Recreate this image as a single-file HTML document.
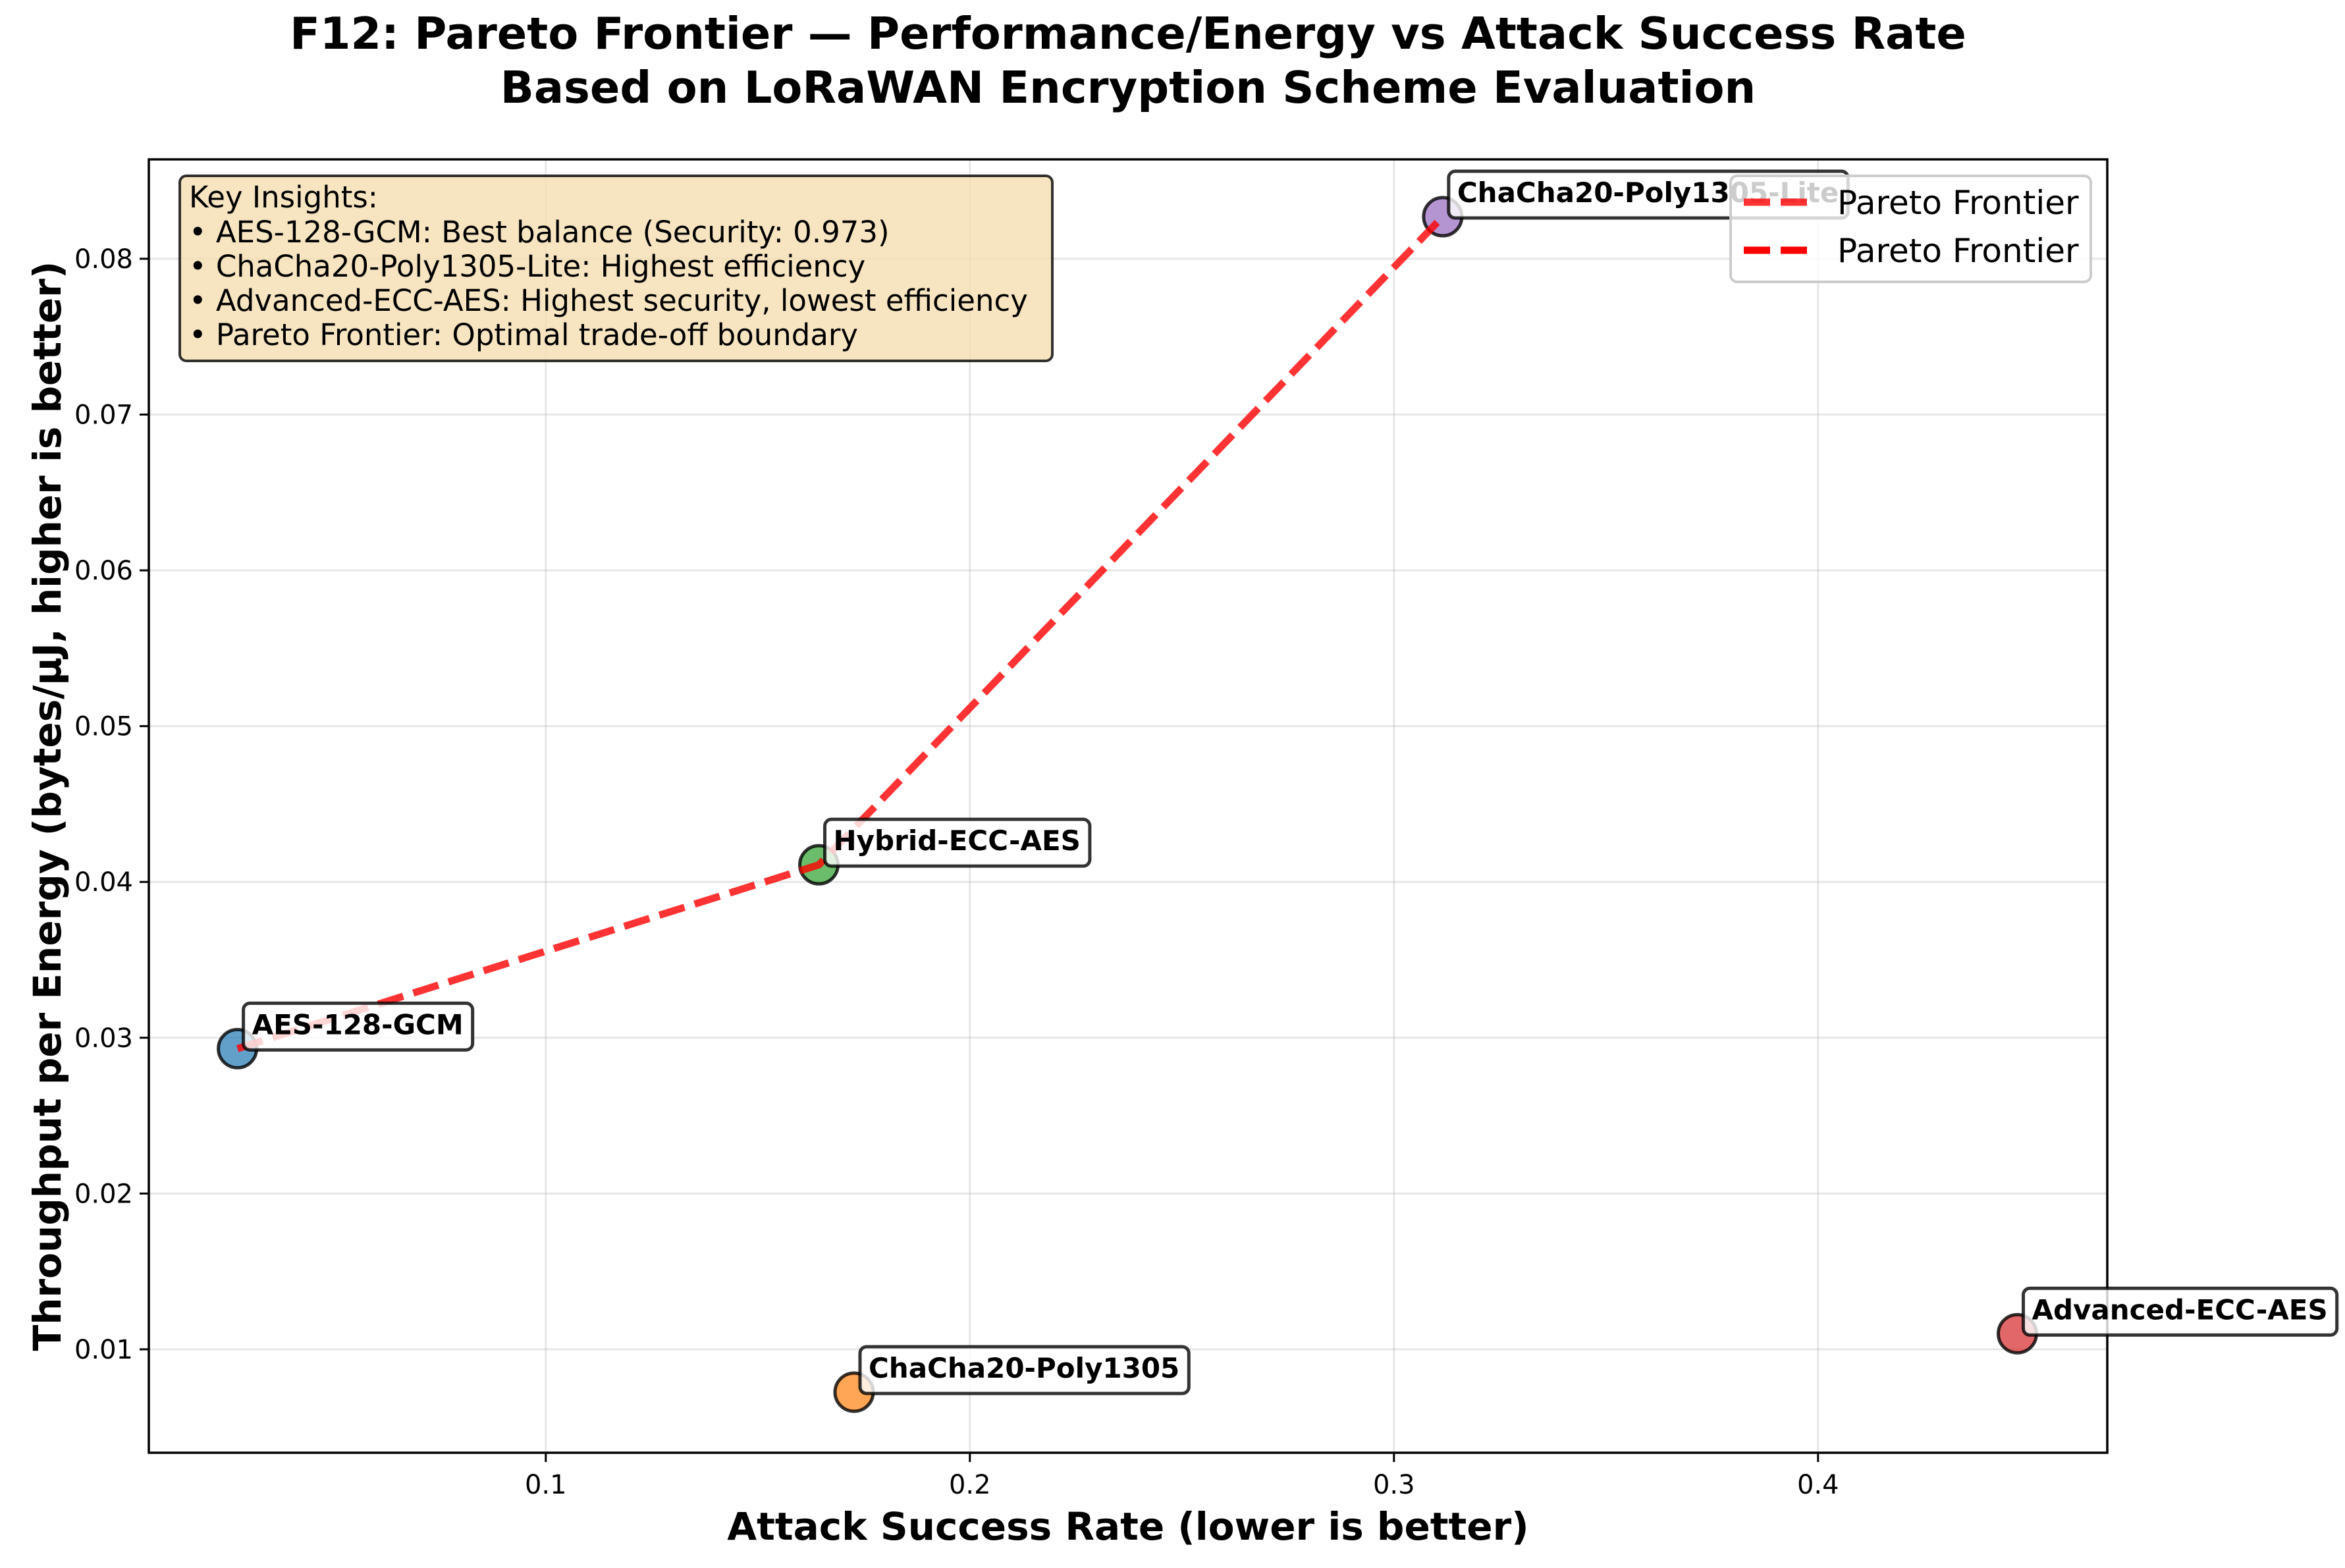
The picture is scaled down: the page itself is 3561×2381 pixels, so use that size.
<!DOCTYPE html>
<html><head><meta charset="utf-8">
<style>
html,body{margin:0;padding:0;background:#fff;}
svg{display:block;font-family:"DejaVu Sans","Liberation Sans",sans-serif;}
</style></head>
<body>
<svg id="chart" width="3561" height="2381" viewBox="0 0 3561 2381" xmlns="http://www.w3.org/2000/svg">
<rect width="3561" height="2381" fill="#fff"/>
<text x="1713" y="74" font-size="67" font-weight="bold" text-anchor="middle">F12: Pareto Frontier — Performance/Energy vs Attack Success Rate</text>
<text x="1713" y="156" font-size="67" font-weight="bold" text-anchor="middle">Based on LoRaWAN Encryption Scheme Evaluation</text>
<g id="grid"></g>
<g id="series"></g>
<rect x="226" y="242" width="2974" height="1964" fill="none" stroke="#000" stroke-width="3.5"/>
<g id="ticks"></g>
<text x="1713" y="2338" font-size="58" font-weight="bold" text-anchor="middle">Attack Success Rate (lower is better)</text>
<text transform="translate(92,1224) rotate(-90)" font-size="58" font-weight="bold" text-anchor="middle">Throughput per Energy (bytes/μJ, higher is better)</text>
<g>
<rect x="273" y="267" width="1325" height="281" rx="10" fill="#f5deb3" fill-opacity="0.8" stroke="#000" stroke-opacity="0.8" stroke-width="4"/>
<text font-size="45">
<tspan x="287" y="315">Key Insights:</tspan>
<tspan x="287" y="368">• AES-128-GCM: Best balance (Security: 0.973)</tspan>
<tspan x="287" y="420">• ChaCha20-Poly1305-Lite: Highest efficiency</tspan>
<tspan x="287" y="472">• Advanced-ECC-AES: Highest security, lowest efficiency</tspan>
<tspan x="287" y="524">• Pareto Frontier: Optimal trade-off boundary</tspan>
</text>
</g>
<g id="labels"></g>
<g>
<rect x="2628" y="267" width="547" height="161" rx="10" fill="#fff" fill-opacity="0.8" stroke="#ccc" stroke-width="4"/>
<line x1="2648" y1="307" x2="2750" y2="307" stroke="#ff0000" stroke-opacity="0.8" stroke-width="11" stroke-dasharray="40 16"/>
<text x="2790" y="325" font-size="50">Pareto Frontier</text>
<line x1="2648" y1="380" x2="2750" y2="380" stroke="#ff0000" stroke-width="11" stroke-dasharray="40 16"/>
<text x="2790" y="398" font-size="50">Pareto Frontier</text>
</g>
</svg>
<script>
const schemes = ["AES-128-GCM","ChaCha20-Poly1305","Hybrid-ECC-AES","ChaCha20-Poly1305-Lite","Advanced-ECC-AES"];
const attackRate = [0.0273,0.1727,0.1644,0.3115,0.447];
const throughput = [0.0293,0.00725,0.0411,0.0827,0.011];
const colors = ["#1f77b4","#ff7f0e","#2ca02c","#9467bd","#d62728"];
const paretoIdx = [0,2,3];
const xTicks = [0.1,0.2,0.3,0.4];
const yTicks = [0.01,0.02,0.03,0.04,0.05,0.06,0.07,0.08];
const xTickLabels = ["0.1","0.2","0.3","0.4"];
const yTickLabels = ["0.01","0.02","0.03","0.04","0.05","0.06","0.07","0.08"];

const L=226,R=3200,T=242,B=2206;
const xMin=0.0064,xMax=0.4682,yMin=0.00336,yMax=0.08638;
const sx=v=>L+(v-xMin)/(xMax-xMin)*(R-L);
const sy=v=>B-(v-yMin)/(yMax-yMin)*(B-T);
const NS="http://www.w3.org/2000/svg";
function mk(tag,attrs,parent){const e=document.createElementNS(NS,tag);for(const k in attrs)e.setAttribute(k,attrs[k]);parent.appendChild(e);return e;}
const grid=document.getElementById('grid'),ticks=document.getElementById('ticks'),series=document.getElementById('series'),labels=document.getElementById('labels');

xTicks.forEach((v,i)=>{
  const x=sx(v);
  const g=mk('line',{x1:x,y1:T,x2:x,y2:B,stroke:'#b0b0b0','stroke-opacity':0.3,'stroke-width':3},grid);
  
  
  const t=mk('line',{x1:x,y1:B,x2:x,y2:B+14,stroke:'#000','stroke-width':3},ticks);
  
  
  const l=mk('text',{x:x,y:B+62,'font-size':40,'text-anchor':'middle'},ticks);
  l.textContent=xTickLabels[i];
  
  
});
yTicks.forEach((v,i)=>{
  const y=sy(v);
  const g=mk('line',{x1:L,y1:y,x2:R,y2:y,stroke:'#b0b0b0','stroke-opacity':0.3,'stroke-width':3},grid);
  
  
  const t=mk('line',{x1:L-14,y1:y,x2:L,y2:y,stroke:'#000','stroke-width':3},ticks);
  
  
  const l=mk('text',{x:L-24,y:y+14,'font-size':40,'text-anchor':'end'},ticks);
  l.textContent=yTickLabels[i];
  
  
});
schemes.forEach((s,i)=>{
  const c=mk('circle',{cx:sx(attackRate[i]),cy:sy(throughput[i]),r:29,fill:colors[i],'fill-opacity':0.7,stroke:'#000','stroke-opacity':0.8,'stroke-width':5},series);
  
  
});
const pts=paretoIdx.map(i=>sx(attackRate[i])+','+sy(throughput[i])).join(' ');
const pl=mk('polyline',{points:pts,fill:'none',stroke:'#ff0000','stroke-opacity':0.8,'stroke-width':11,'stroke-dasharray':'40 16'},series);


schemes.forEach((s,i)=>{
  const px=sx(attackRate[i]),py=sy(throughput[i]);
  const g=mk('g',{},labels);
  
  
  const t=mk('text',{x:px+22,y:py-22,'font-size':42,'font-weight':'bold'},g);
  t.textContent=s;
  const w=t.getComputedTextLength();
  const r=mk('rect',{x:px+9,y:py-69,width:w+27,height:71,rx:10,fill:'#fff','fill-opacity':0.8,stroke:'#000','stroke-opacity':0.8,'stroke-width':5},g);
  g.insertBefore(r,t);
});
</script>
</body></html>
